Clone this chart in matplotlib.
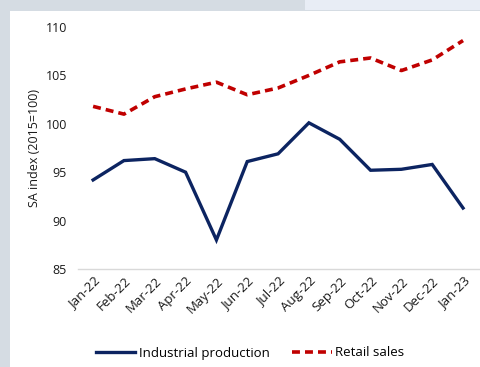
import matplotlib.pyplot as plt
from matplotlib.patches import Rectangle

# Data
months = ["Jan-22", "Feb-22", "Mar-22", "Apr-22", "May-22", "Jun-22", "Jul-22",
          "Aug-22", "Sep-22", "Oct-22", "Nov-22", "Dec-22", "Jan-23"]
industrial = [94.2, 96.2, 96.4, 95.0, 88.0, 96.1, 96.9, 100.1, 98.4, 95.2, 95.3, 95.8, 91.3]
retail = [101.8, 101.0, 102.8, 103.6, 104.3, 103.0, 103.7, 105.0, 106.4, 106.8, 105.5, 106.6, 108.6]
yticks = [85, 90, 95, 100, 105, 110]

NAVY = "#0c2461"
RED = "#c00000"

plt.rcParams["font.family"] = ["Open Sans", "DejaVu Sans"]

fig = plt.figure(figsize=(4.8, 3.67), dpi=100, facecolor="#d5dce3")

# White panel and light strip at the top right
fig.patches.append(Rectangle((10 / 480, 0), 1, 1 - 11 / 367,
                             transform=fig.transFigure, facecolor="white",
                             edgecolor="none", zorder=-2))
fig.patches.append(Rectangle((305 / 480, 1 - 10 / 367), 1, 10 / 367,
                             transform=fig.transFigure, facecolor="#e8edf5",
                             edgecolor="none", zorder=-2))

ax = fig.add_axes([78 / 480, 1 - 269 / 367, 1 - 78 / 480, (269 - 27) / 367])
ax.set_zorder(1)
ax.set_facecolor("none")

x = range(len(months))
ax.plot(x, industrial, color=NAVY, lw=2.4, label="Industrial production",
        solid_joinstyle="miter")
ax.plot(x, retail, color=RED, lw=2.6, ls=(0, (2.2, 1.4)), label="Retail sales")

ax.set_xlim(-0.49, 12.55)
ax.set_ylim(85, 110)
ax.set_yticks(yticks)
ax.set_xticks(list(x))
ax.set_xticklabels(months, rotation=45, ha="right", rotation_mode="anchor")
ax.tick_params(axis="both", length=0, labelsize=9, colors="#1a1a1a")
ax.tick_params(axis="x", labelsize=9.5, pad=4)
ax.tick_params(axis="y", pad=8)

for side in ["top", "right", "left"]:
    ax.spines[side].set_visible(False)
ax.spines["bottom"].set_color("#d9d9d9")
ax.spines["bottom"].set_linewidth(1)

ax.set_ylabel("SA index (2015=100)", fontsize=9, color="#1a1a1a", labelpad=3)

ax.legend(loc="center", bbox_to_anchor=(250 / 480, 1 - 353 / 367),
          bbox_transform=fig.transFigure, ncol=2, frameon=False, fontsize=9.5,
          handlelength=3.0, handletextpad=0.25, columnspacing=1.7)

fig.savefig("out.png", dpi=100, facecolor=fig.get_facecolor())
